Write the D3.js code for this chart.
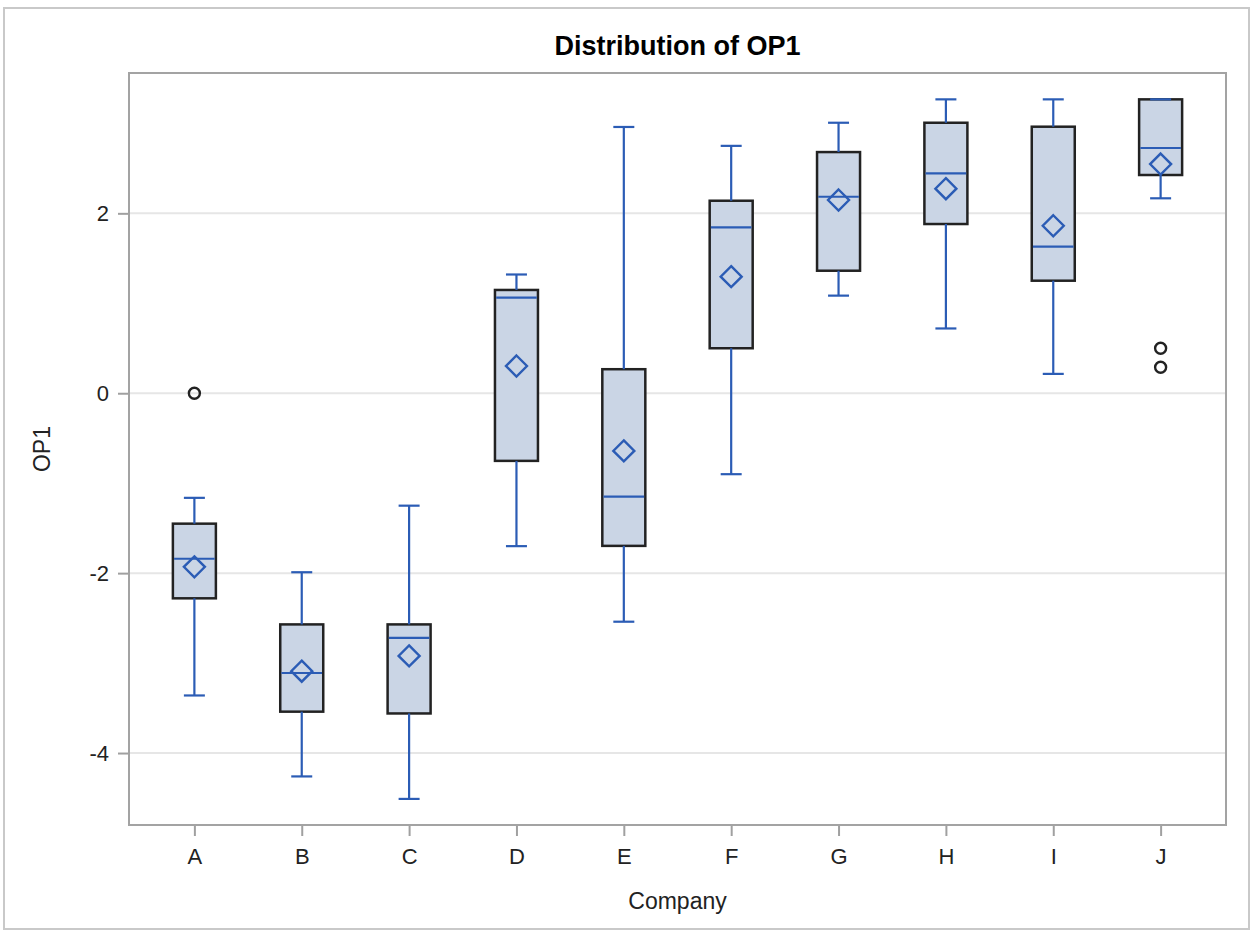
<!DOCTYPE html>
<html>
<head>
<meta charset="utf-8">
<script src="https://cdn.jsdelivr.net/npm/d3@7"></script>
<style>
  html, body { margin: 0; padding: 0; background: #fff; }
  svg { display: block; font-family: "Liberation Sans", Arial, sans-serif; }
</style>
</head>
<body>
<svg id="chart" width="1254" height="933"></svg>
<script>
const categories = ["A","B","C","D","E","F","G","H","I","J"];
const whiskerLow  = [-3.36, -4.26, -4.51, -1.70, -2.54, -0.90, 1.085, 0.72, 0.215, 2.167];
const q1          = [-2.28, -3.54, -3.56, -0.752, -1.697, 0.50, 1.362, 1.881, 1.251, 2.426];
const medians     = [-1.84, -3.11, -2.72, 1.062, -1.149, 1.844, 2.184, 2.444, 1.63, 2.726];
const q3          = [-1.45, -2.57, -2.57, 1.148, 0.267, 2.14, 2.681, 3.007, 2.963, 3.267];
const whiskerHigh = [-1.163, -1.99, -1.25, 1.32, 2.96, 2.75, 3.007, 3.267, 3.267, 3.267];
const means       = [-1.93, -3.09, -2.92, 0.303, -0.641, 1.296, 2.148, 2.274, 1.862, 2.548];
const outlierCat  = ["A", "J", "J"];
const outlierVal  = [0.0, 0.5, 0.289];
const yTicks      = [-4, -2, 0, 2];

const svg = d3.select("#chart");
const plot = { left: 129, right: 1226, top: 73, bottom: 825 };

const lineBlue = "#2B5CB5";
const boxFill = "#CAD5E5";
const boxStroke = "#222";

// outer frame
svg.append("rect").attr("x", 4).attr("y", 8).attr("width", 1245).attr("height", 921)
  .attr("fill", "#fff").attr("stroke", "#c9c9c9").attr("stroke-width", 2);

const x = d3.scalePoint().domain(categories).range([plot.left, plot.right]).padding(0.609);
const y = d3.scaleLinear().domain([-4.80, 3.56]).range([plot.bottom, plot.top]);

// gridlines
svg.append("g").selectAll("line").data(yTicks).join("line")
  .attr("x1", plot.left).attr("x2", plot.right)
  .attr("y1", d => y(d)).attr("y2", d => y(d))
  .attr("stroke", "#e6e6e6").attr("stroke-width", 2);

// axes
const yAxis = svg.append("g").attr("transform", `translate(${plot.left},0)`)
  .call(d3.axisLeft(y).tickValues(yTicks).tickSize(11).tickPadding(9).tickFormat(d => String(d)));
const xAxis = svg.append("g").attr("transform", `translate(0,${plot.bottom})`)
  .call(d3.axisBottom(x).tickSize(11).tickPadding(12));
[yAxis, xAxis].forEach(g => {
  g.select(".domain").remove();
  g.selectAll(".tick line").attr("stroke", "#a0a0a0").attr("stroke-width", 2);
  g.selectAll(".tick text").attr("fill", "#222").style("font-size", "22px")
    .style("font-family", "'Liberation Sans', Arial, sans-serif");
});

// plot frame
svg.append("rect").attr("x", plot.left).attr("y", plot.top)
  .attr("width", plot.right - plot.left).attr("height", plot.bottom - plot.top)
  .attr("fill", "none").attr("stroke", "#a3a3a3").attr("stroke-width", 2);

const boxW = 43, capW = 21;
const g = svg.append("g");
categories.forEach((c, i) => {
  const cx = x(c);
  g.append("rect").attr("x", cx - boxW / 2).attr("y", y(q3[i]))
    .attr("width", boxW).attr("height", y(q1[i]) - y(q3[i]))
    .attr("fill", boxFill).attr("stroke", boxStroke).attr("stroke-width", 2.5);
  g.append("line").attr("x1", cx).attr("x2", cx).attr("y1", y(q3[i])).attr("y2", y(whiskerHigh[i]))
    .attr("stroke", lineBlue).attr("stroke-width", 2.2);
  g.append("line").attr("x1", cx).attr("x2", cx).attr("y1", y(q1[i])).attr("y2", y(whiskerLow[i]))
    .attr("stroke", lineBlue).attr("stroke-width", 2.2);
  [whiskerHigh[i], whiskerLow[i]].forEach(v => {
    g.append("line").attr("x1", cx - capW / 2).attr("x2", cx + capW / 2)
      .attr("y1", y(v)).attr("y2", y(v)).attr("stroke", lineBlue).attr("stroke-width", 2.2);
  });
  g.append("line").attr("x1", cx - boxW / 2 + 1.2).attr("x2", cx + boxW / 2 - 1.2)
    .attr("y1", y(medians[i])).attr("y2", y(medians[i]))
    .attr("stroke", lineBlue).attr("stroke-width", 2.2);
  const my = y(means[i]), r = 10.5;
  g.append("path").attr("d", `M${cx},${my - r}L${cx + r},${my}L${cx},${my + r}L${cx - r},${my}Z`)
    .attr("fill", "none").attr("stroke", lineBlue).attr("stroke-width", 2.4);
});

// outliers
g.selectAll("circle.out").data(outlierVal).join("circle")
  .attr("class", "out")
  .attr("cx", (d, i) => x(outlierCat[i])).attr("cy", d => y(d)).attr("r", 5.5)
  .attr("fill", "none").attr("stroke", "#222").attr("stroke-width", 2.4);

// titles
svg.append("text").attr("x", (plot.left + plot.right) / 2).attr("y", 55)
  .attr("text-anchor", "middle").attr("fill", "#000")
  .style("font-size", "27px").style("font-weight", "bold").text("Distribution of OP1");
svg.append("text").attr("x", (plot.left + plot.right) / 2).attr("y", 909)
  .attr("text-anchor", "middle").attr("fill", "#222")
  .style("font-size", "23px").text("Company");
svg.append("text").attr("transform", `translate(50,${(plot.top + plot.bottom) / 2}) rotate(-90)`)
  .attr("text-anchor", "middle").attr("fill", "#222")
  .style("font-size", "23px").text("OP1");
</script>
</body>
</html>
